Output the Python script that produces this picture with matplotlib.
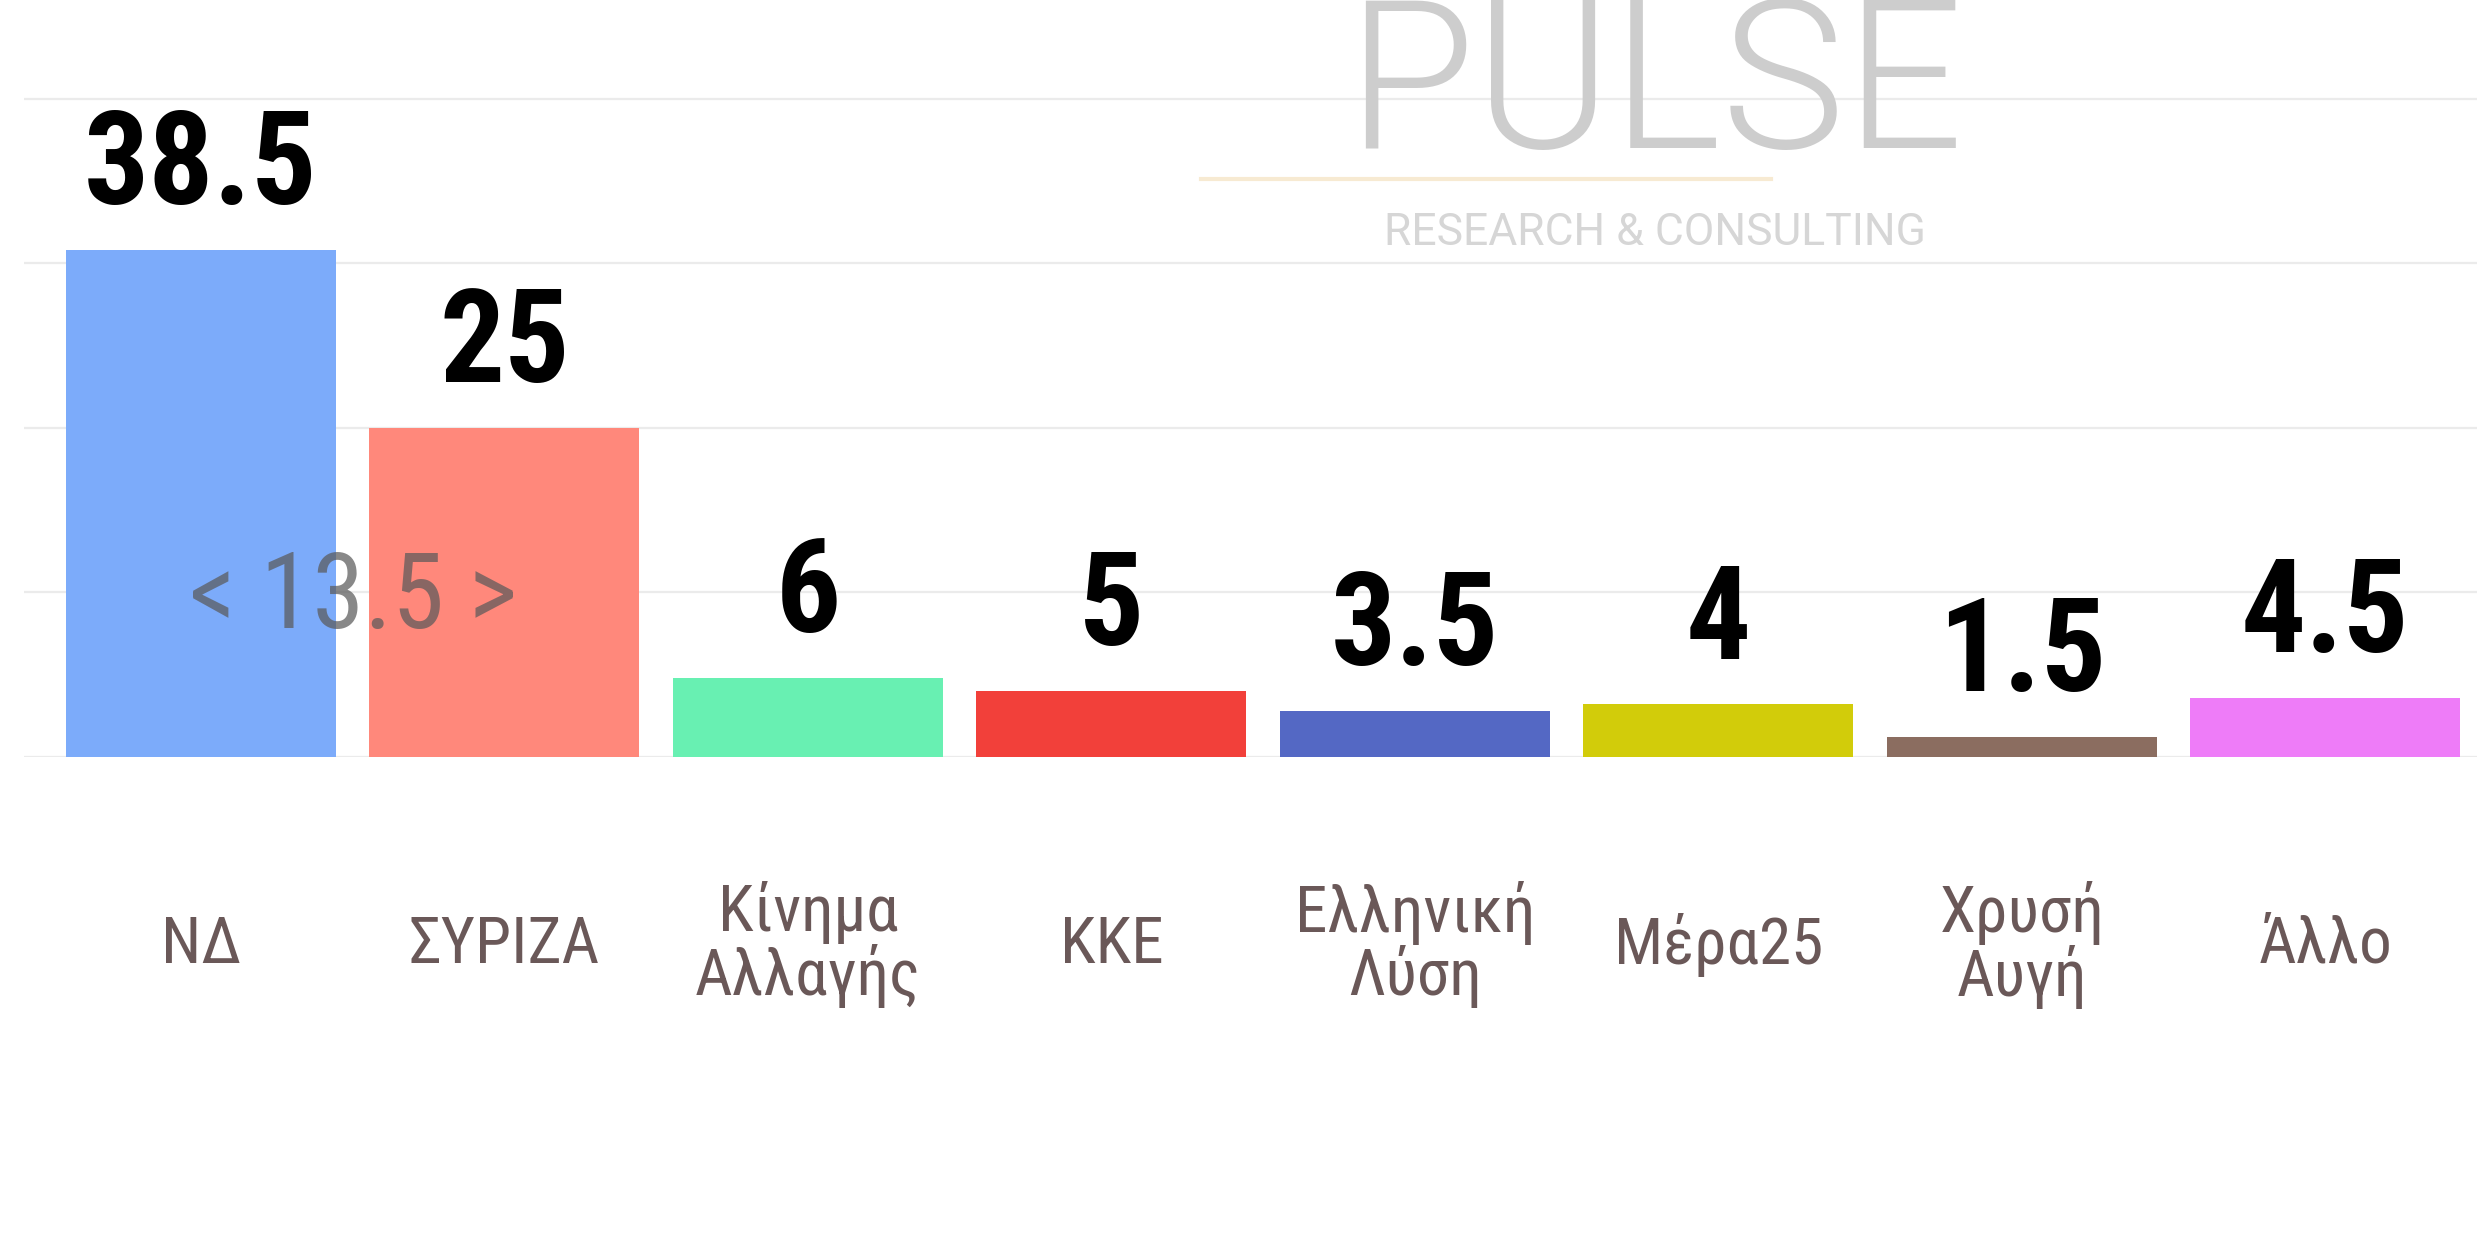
import matplotlib.pyplot as plt
from matplotlib.lines import Line2D

parties = ['ΝΔ', 'ΣΥΡΙΖΑ', 'Κίνημα\nΑλλαγής', 'ΚΚΕ', 'Ελληνική\nΛύση',
           'Μέρα25', 'Χρυσή\nΑυγή', 'Άλλο']
values = [38.5, 25, 6, 5, 3.5, 4, 1.5, 4.5]
value_labels = ['38.5', '25', '6', '5', '3.5', '4', '1.5', '4.5']
colors = ['#7CABFA', '#FF887B', '#68F0B2', '#F2403A',
          '#5468C4', '#D2CC0A', '#8B6D60', '#EE7CF8']
gap_label = '< 13.5 >'
grid_ticks = [0, 12.5, 25, 37.5, 50]

FONT = ['Roboto Condensed', 'DejaVu Sans']
LABEL_COLOR = '#6a5858'

fig = plt.figure(figsize=(24.77, 12.5), dpi=100)
ax = fig.add_axes([0.0097, 0.3944, 0.9903, 0.6056])

x = list(range(len(parties)))
ax.bar(x, values, width=0.89, color=colors, zorder=2)

ax.set_xlim(-0.583, 7.5)
ax.set_ylim(0, 57.5)
ax.set_yticks(grid_ticks)
ax.yaxis.grid(True, color='#ebebeb', lw=1.6, zorder=0)
ax.set_axisbelow(True)
ax.tick_params(left=False, bottom=False, labelleft=False, labelbottom=False)
for s in ax.spines.values():
    s.set_visible(False)

# value labels above bars
for i, (v, lab) in enumerate(zip(values, value_labels)):
    ax.annotate(lab, (i, v), xytext=(0, 33), textcoords='offset points',
                ha='center', va='baseline', fontsize=93, fontweight='bold',
                color='black', family=FONT, zorder=4)

# category labels
for i, name in enumerate(parties):
    ax.text(i, -0.248, name, transform=ax.get_xaxis_transform(),
            ha='center', va='center', fontsize=47, fontweight=400,
            color=LABEL_COLOR, family=FONT, linespacing=1.0, clip_on=False)

# difference between first two parties
ax.text(0.5, 12, gap_label, ha='center', va='center', fontsize=76,
        fontweight=400, color='#5a5a5a', alpha=0.72, family=FONT, zorder=5)

# watermark
fig.text(0.668, 0.882, 'PULSE', ha='center', va='baseline', fontsize=150,
         family=['Roboto', 'DejaVu Sans'], fontweight=300, color='#cdcdcd',
         zorder=1)
fig.text(0.668, 0.804, 'RESEARCH & CONSULTING', ha='center', va='baseline',
         fontsize=32, family=['Roboto', 'DejaVu Sans'], color='#d6d6d6',
         zorder=1)
fig.add_artist(Line2D([0.485, 0.715], [0.857, 0.857], color='#f7ead2',
                      lw=3, transform=fig.transFigure, zorder=1))

fig.savefig('out.png', dpi=100)
plt.close(fig)
